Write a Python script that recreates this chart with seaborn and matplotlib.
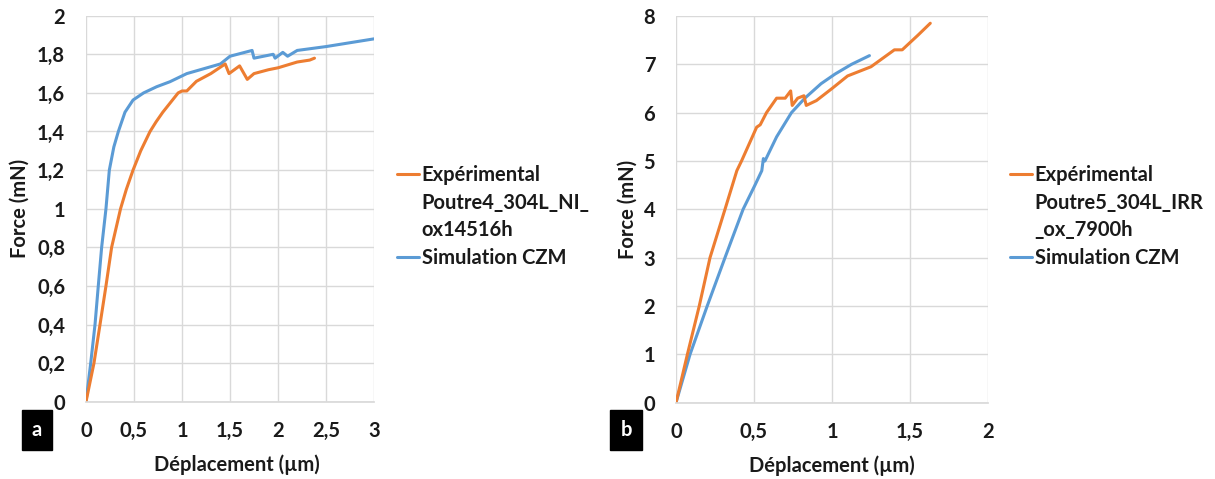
import seaborn as sns
import pandas as pd
import numpy as np
import matplotlib
import matplotlib.pyplot as plt
from matplotlib.lines import Line2D

# courbes force-déplacement relevées sur la figure
# panneau a : Poutre4_304L_NI_ox14516h
a_exp_x = [0, 0.083, 0.146, 0.208, 0.267, 0.36, 0.42, 0.49, 0.57, 0.667, 0.73, 0.8, 0.88, 0.96,
           1.0, 1.05, 1.15, 1.3, 1.45, 1.49, 1.6, 1.68, 1.75, 1.9, 2.0, 2.2, 2.33, 2.38]
a_exp_y = [0, 0.2, 0.4, 0.6, 0.8, 1.0, 1.1, 1.2, 1.3, 1.4, 1.45, 1.5, 1.55, 1.6,
           1.61, 1.61, 1.66, 1.7, 1.75, 1.70, 1.74, 1.67, 1.70, 1.72, 1.73, 1.76, 1.77, 1.78]
a_sim_x = [0, 0.049, 0.094, 0.128, 0.163, 0.208, 0.243, 0.29, 0.337, 0.406, 0.49, 0.6, 0.736,
           0.875, 1.05, 1.4, 1.5, 1.73, 1.75, 1.85, 1.95, 1.97, 2.05, 2.1, 2.2, 2.5, 2.75, 3.0]
a_sim_y = [0, 0.2, 0.4, 0.6, 0.8, 1.0, 1.2, 1.32, 1.4, 1.5, 1.563, 1.6, 1.632,
           1.658, 1.7, 1.75, 1.79, 1.82, 1.78, 1.79, 1.80, 1.78, 1.81, 1.79, 1.82, 1.84, 1.86, 1.88]

# panneau b : Poutre5_304L_IRR_ox_7900h
b_exp_x = [0, 0.073, 0.149, 0.218, 0.314, 0.39, 0.42, 0.517, 0.54, 0.58, 0.645, 0.7, 0.735,
           0.745, 0.78, 0.82, 0.835, 0.9, 1.0, 1.1, 1.25, 1.4, 1.45, 1.55, 1.63]
b_exp_y = [0, 1, 2, 3, 4, 4.8, 5, 5.7, 5.75, 6, 6.3, 6.3, 6.45,
           6.15, 6.3, 6.35, 6.15, 6.25, 6.5, 6.76, 6.95, 7.3, 7.3, 7.6, 7.85]
b_sim_x = [0, 0.09, 0.2, 0.314, 0.43, 0.506, 0.55, 0.56, 0.57, 0.645, 0.74, 0.826, 0.93,
           1.02, 1.125, 1.24]
b_sim_y = [0, 1, 2, 3, 4, 4.5, 4.8, 5.05, 5.0, 5.5, 6, 6.3, 6.6,
           6.8, 7.0, 7.18]

labels_a = ["Expérimental", "Poutre4_304L_NI_", "ox14516h", "Simulation CZM"]
labels_b = ["Expérimental", "Poutre5_304L_IRR", "_ox_7900h", "Simulation CZM"]

orange = "#ED7D31"
bleu = "#5B9BD5"
gris = "#D9D9D9"
texte = "#1a1a1a"
taille = 14.5

sns.set_theme(style="white")
plt.rcParams['font.family'] = ['Lato', 'DejaVu Sans']
plt.rcParams['font.weight'] = 'bold'

fig = plt.figure(figsize=(12.15, 4.79), dpi=100)
ax_a = fig.add_axes([86 / 1215, 1 - 401.7 / 479, 288 / 1215, 386 / 479])
ax_b = fig.add_axes([676 / 1215, 1 - 402.7 / 479, 312 / 1215, 386.7 / 479])


def panneau(ax, ex, ey, sx, sy, xmax, xstep, ymax, ystep, ylab_x, xlab_x):
    df_e = pd.DataFrame({'x': ex, 'y': ey})
    df_s = pd.DataFrame({'x': sx, 'y': sy})
    sns.lineplot(data=df_s, x='x', y='y', ax=ax, color=bleu, lw=2.2, sort=False, estimator=None)
    sns.lineplot(data=df_e, x='x', y='y', ax=ax, color=orange, lw=2.2, sort=False, estimator=None)
    ax.set_xlim(0, xmax)
    ax.set_ylim(0, ymax)
    xt = np.arange(0, xmax + 1e-9, xstep)
    yt = np.arange(0, ymax + 1e-9, ystep)
    ax.set_xticks(xt)
    ax.set_yticks(yt)
    fmt = lambda v: ('%g' % round(v, 2)).replace('.', ',')
    ax.set_xticklabels([fmt(v) for v in xt])
    ax.set_yticklabels([fmt(v) for v in yt])
    ax.tick_params(axis='x', length=0, pad=14, labelsize=taille, colors=texte)
    ax.tick_params(axis='y', length=0, pad=15, labelsize=taille, colors=texte)
    ax.grid(True, color=gris, lw=1)
    ax.set_axisbelow(True)
    for s in ['top', 'right', 'left']:
        ax.spines[s].set_visible(False)
    ax.spines['bottom'].set_color(gris)
    ax.set_xlabel("Déplacement (µm)", fontsize=taille, fontweight='bold', color=texte)
    ax.set_ylabel("Force (mN)", fontsize=taille, fontweight='bold', color=texte)
    ax.xaxis.label.set_va('center')
    ax.yaxis.label.set_va('center')
    ax.yaxis.set_label_coords(ylab_x, 0.5)
    ax.xaxis.set_label_coords(xlab_x, -0.164)


panneau(ax_a, a_exp_x, a_exp_y, a_sim_x, a_sim_y, 3, 0.5, 2, 0.2, -0.229, 0.524)
panneau(ax_b, b_exp_x, b_exp_y, b_sim_x, b_sim_y, 2, 0.5, 8, 1, -0.154, 0.5)


def legende(ax, labels, x0, y0):
    vide = Line2D([], [], color='none')
    handles = [Line2D([], [], color=orange, lw=2.2), vide, vide, Line2D([], [], color=bleu, lw=2.2)]
    ax.legend(handles, labels, loc='upper left', bbox_to_anchor=(x0, y0),
              bbox_transform=fig.transFigure, frameon=False, handlelength=1.1,
              handletextpad=0.12, labelspacing=0.38, borderpad=0, borderaxespad=0,
              prop={'family': ['Lato', 'DejaVu Sans'], 'weight': 'bold', 'size': taille},
              labelcolor=texte)


legende(ax_a, labels_a, 397 / 1215, 1 - 165 / 479)
legende(ax_b, labels_b, 1010 / 1215, 1 - 165 / 479)

# étiquettes a / b
for lettre, xc in [("a", 37 / 1215), ("b", 626 / 1215)]:
    fig.text(xc, 1 - 430 / 479, lettre, color='white', fontsize=taille, fontweight='bold',
             ha='center', va='center',
             bbox=dict(boxstyle='square,pad=0.5', facecolor='black', edgecolor='black'))

fig.savefig("out.png", dpi=100, facecolor='white')
